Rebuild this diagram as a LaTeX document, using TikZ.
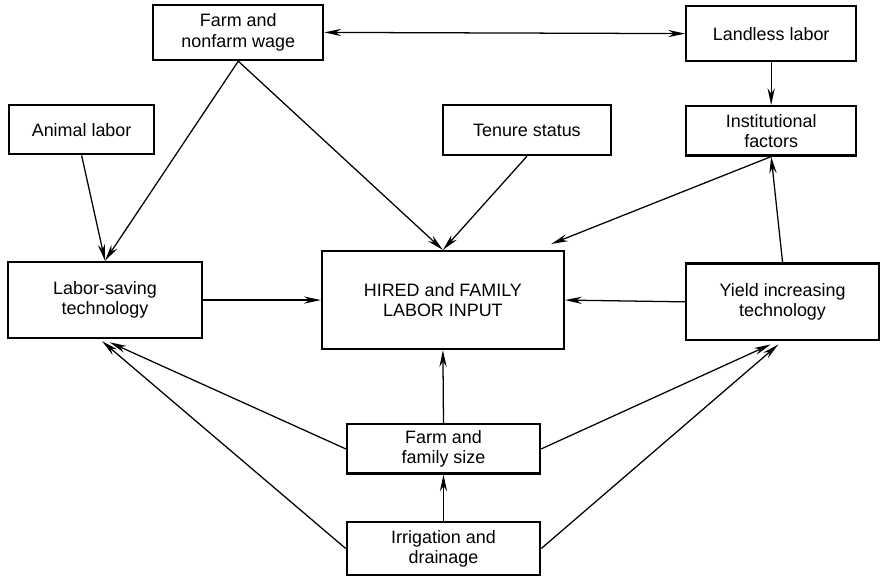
\documentclass[tikz,border=0pt]{standalone}
\usepackage{fontspec}
\setmainfont{Liberation Sans}
\usepackage{tikz}
\usetikzlibrary{arrows.meta, positioning, calc}

\tikzset{
    factor/.style={draw, line width=1.1pt, align=center, inner sep=1pt,
        font=\fontsize{8.5}{9.6}\selectfont},
    link/.style={line width=0.6pt, -{Stealth[length=2.8mm, width=1.2mm]}}
}

\begin{document}
\begin{tikzpicture}
    \useasboundingbox (0, 0) rectangle (14.68, -9.62);

    % Top row
    \node[factor, minimum width=2.83cm, minimum height=0.92cm] (wage) at (3.97, -0.54) {Farm and\\nonfarm wage};
    \node[factor, minimum width=2.83cm, minimum height=0.92cm] (landless) at (12.85, -0.56) {Landless labor};

    % Second row
    \node[factor, minimum width=2.42cm, minimum height=0.82cm] (animal) at (1.36, -2.16) {Animal labor};
    \node[factor, minimum width=2.80cm, minimum height=0.83cm] (tenure) at (8.78, -2.17) {Tenure status};
    \node[factor, minimum width=2.83cm, minimum height=0.82cm] (inst) at (12.85, -2.18) {Institutional\\factors};

    % Middle row
    \node[factor, minimum width=3.23cm, minimum height=1.27cm] (lsave) at (1.75, -5.0) {Labor-saving\\technology};
    \node[factor, minimum width=4.03cm, minimum height=1.63cm] (hired) at (7.38, -5.0) {HIRED and FAMILY\\LABOR INPUT};
    \node[factor, minimum width=3.22cm, minimum height=1.28cm] (yield) at (13.04, -5.03) {Yield increasing\\technology};

    % Bottom column
    \node[factor, minimum width=3.22cm, minimum height=0.82cm] (size) at (7.39, -7.48) {Farm and\\family size};
    \node[factor, minimum width=3.22cm, minimum height=0.88cm] (irrig) at (7.39, -9.14) {Irrigation and\\drainage};

    % Free end near the top right corner of the input box
    \coordinate (hiredtip) at ($(hired.north east)+(-0.23, 0.1)$);

    % Wage and landless labor
    \draw[line width=0.6pt, {Stealth[length=2.8mm, width=1.2mm]}-{Stealth[length=2.8mm, width=1.2mm]}] (wage.east) -- (landless.west);
    \draw[link] (landless.south) -- (inst.north);

    % Into labor-saving technology
    \draw[link] (animal.south) -- (lsave.north);
    \draw[link] (wage.south) -- (lsave.north);
    \draw[link] (size.west) -- ([xshift=0.08cm, yshift=-0.05cm]lsave.south);
    \draw[link] (irrig.west) -- ([xshift=-0.05cm, yshift=-0.03cm]lsave.south);

    % Into labor input
    \draw[link] (wage.south) -- (hired.north);
    \draw[link] (tenure.south) -- (hired.north);
    \draw[link] (inst.south) -- (hiredtip);
    \draw[link] (lsave.east) -- (hired.west);
    \draw[link] (yield.west) -- (hired.east);
    \draw[link] (size.north) -- (hired.south);
    \draw[link] (irrig.north) -- (size.south);

    % Into yield increasing technology
    \draw[link] (yield.north) -- (inst.south);
    \draw[link] (size.east) -- ([xshift=-0.2cm, yshift=-0.05cm]yield.south);
    \draw[link] (irrig.east) -- ([xshift=-0.07cm, yshift=-0.05cm]yield.south);
\end{tikzpicture}
\end{document}
